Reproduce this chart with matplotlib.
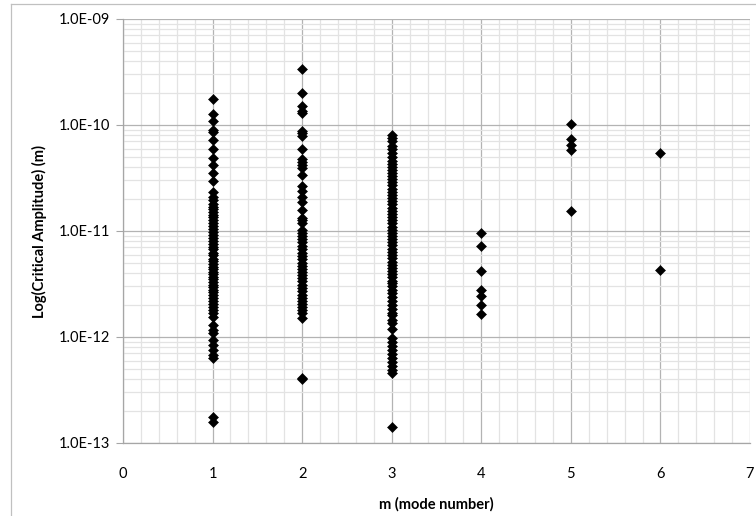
import matplotlib
matplotlib.use("Agg")
import matplotlib.pyplot as plt
from matplotlib.ticker import FixedLocator, NullFormatter, LogLocator, MultipleLocator
from matplotlib.lines import Line2D
import matplotlib.font_manager as fm

# ---------------- data ----------------
mode_1 = [1.76e-10, 1.26e-10, 1.10e-10, 8.97e-11, 8.6e-11, 7.22e-11, 5.90e-11, 4.85e-11,
          4.20e-11, 3.50e-11, 2.98e-11, 2.35e-11,
          2.1e-11, 1.95e-11, 1.8e-11, 1.7e-11, 1.6e-11, 1.5e-11, 1.42e-11, 1.35e-11,
          1.28e-11, 1.2e-11, 1.12e-11, 1.05e-11, 9.8e-12, 9.2e-12, 8.6e-12, 8.1e-12,
          7.6e-12, 7.1e-12, 6.7e-12, 6.2e-12, 5.9e-12, 5.5e-12, 5.2e-12, 4.9e-12,
          4.6e-12, 4.35e-12, 4.1e-12, 3.9e-12, 3.7e-12, 3.5e-12, 3.3e-12, 3.1e-12,
          2.95e-12, 2.8e-12, 2.65e-12, 2.5e-12, 2.35e-12, 2.2e-12, 2.05e-12, 1.9e-12,
          1.8e-12, 1.7e-12, 1.56e-12,
          1.30e-12, 1.16e-12, 1.09e-12, 9.37e-13, 8.41e-13, 7.54e-13, 6.76e-13, 6.34e-13,
          1.76e-13, 1.58e-13]
mode_2 = [3.38e-10, 1.99e-10, 1.51e-10, 1.36e-10, 1.29e-10, 8.84e-11, 8.35e-11, 7.93e-11,
          5.98e-11, 4.78e-11, 4.48e-11, 4.20e-11, 3.93e-11, 3.38e-11, 2.68e-11, 2.40e-11,
          2.11e-11, 1.87e-11, 1.58e-11, 1.33e-11, 1.27e-11, 1.20e-11, 1.02e-11, 9.57e-12,
          9.0e-12, 8.4e-12, 7.8e-12, 7.2e-12, 6.7e-12, 6.2e-12, 5.8e-12, 5.4e-12, 5.0e-12,
          4.7e-12, 4.4e-12, 4.1e-12, 3.85e-12, 3.6e-12, 3.35e-12, 3.1e-12, 2.9e-12,
          2.7e-12, 2.5e-12, 2.35e-12, 2.2e-12, 2.05e-12, 1.9e-12, 1.78e-12, 1.68e-12,
          1.50e-12, 4.12e-13, 4.02e-13]
mode_3 = [8.0e-11, 7.5e-11, 7.0e-11, 6.4e-11, 5.9e-11, 5.4e-11, 5.0e-11, 4.6e-11,
          4.3e-11, 4.0e-11, 3.75e-11, 3.5e-11, 3.3e-11, 3.1e-11, 2.9e-11, 2.7e-11,
          2.5e-11, 2.35e-11, 2.2e-11, 2.05e-11, 1.9e-11, 1.78e-11, 1.66e-11, 1.55e-11,
          1.45e-11, 1.35e-11, 1.26e-11, 1.18e-11, 1.1e-11, 1.03e-11, 9.6e-12, 9.0e-12,
          8.4e-12, 7.8e-12, 7.3e-12, 6.8e-12, 6.3e-12, 5.9e-12, 5.6e-12,
          5.1e-12, 4.8e-12, 4.5e-12, 4.2e-12, 3.9e-12, 3.65e-12, 3.4e-12, 3.2e-12,
          3.0e-12, 2.8e-12, 2.6e-12, 2.4e-12, 2.2e-12, 2.0e-12, 1.85e-12, 1.7e-12,
          1.6e-12, 1.45e-12, 1.36e-12, 1.2e-12,
          9.8e-13, 9.0e-13, 8.2e-13, 7.5e-13, 6.9e-13, 6.3e-13, 5.8e-13, 5.3e-13,
          4.9e-13, 4.6e-13, 1.43e-13]
mode_4 = [9.6e-12, 7.2e-12, 4.2e-12, 2.78e-12, 2.44e-12, 1.99e-12, 1.66e-12]
mode_5 = [1.03e-10, 7.33e-11, 6.48e-11, 5.77e-11, 1.55e-11]
mode_6 = [5.44e-11, 4.26e-12]

modes = [1, 2, 3, 4, 5, 6]
series = [mode_1, mode_2, mode_3, mode_4, mode_5, mode_6]

y_ticks = [1e-13, 1e-12, 1e-11, 1e-10, 1e-9]
y_tick_labels = ["1.0E-13", "1.0E-12", "1.0E-11", "1.0E-10", "1.0E-09"]
x_ticks = [0, 1, 2, 3, 4, 5, 6, 7]

x_label = "m (mode number)"
y_label = "Log(Critical Amplitude) (m)"

# ---------------- style ----------------
available = {f.name for f in fm.fontManager.ttflist}
fam = [f for f in ["Liberation Sans Narrow", "Lato", "DejaVu Sans"] if f in available]
plt.rcParams["font.family"] = fam

fig = plt.figure(figsize=(7.56, 5.16), dpi=100)
ax = fig.add_axes([123 / 756, 1 - 443 / 516, (750 - 123) / 756, (443 - 19) / 516])

for m, vals in zip(modes, series):
    ax.plot([m] * len(vals), vals, linestyle="none", marker="D", markersize=4.6,
            markerfacecolor="black", markeredgecolor="black", markeredgewidth=0.4,
            zorder=3)

ax.set_yscale("log")
ax.set_ylim(1e-13, 1e-9)
ax.set_xlim(0, 7)

ax.yaxis.set_major_locator(FixedLocator(y_ticks))
ax.set_yticklabels(y_tick_labels)
ax.yaxis.set_minor_locator(LogLocator(base=10, subs=range(2, 10)))
ax.yaxis.set_minor_formatter(NullFormatter())
ax.xaxis.set_major_locator(FixedLocator(x_ticks))
ax.xaxis.set_minor_locator(MultipleLocator(0.2))

ax.grid(True, which="major", color="#b3b3b3", linewidth=0.9)
ax.grid(True, which="minor", color="#e3e3e3", linewidth=0.9)
ax.set_axisbelow(True)

for side in ["top", "right"]:
    ax.spines[side].set_visible(False)
for side in ["left", "bottom"]:
    ax.spines[side].set_color("#a6a6a6")
    ax.spines[side].set_linewidth(0.9)

ax.tick_params(axis="y", which="major", length=5, color="#a6a6a6", labelsize=10.5, pad=4)
ax.tick_params(axis="y", which="minor", length=0)
ax.tick_params(axis="x", which="both", length=0, labelsize=10.5, pad=17)

ax.set_xlabel(x_label, fontsize=10.5, fontweight="bold", labelpad=12)
ax.set_ylabel(y_label, fontsize=10.5, fontweight="bold", labelpad=9)

# chart-area border (top and left visible; right/bottom lie outside the image)
fig.add_artist(Line2D([11 / 756, 1.0], [1 - 4 / 516, 1 - 4 / 516], transform=fig.transFigure,
                      color="#c0c0c0", linewidth=0.9))
fig.add_artist(Line2D([11 / 756, 11 / 756], [0, 1 - 4 / 516], transform=fig.transFigure,
                      color="#c0c0c0", linewidth=0.9))

fig.savefig("out.png", dpi=100)
